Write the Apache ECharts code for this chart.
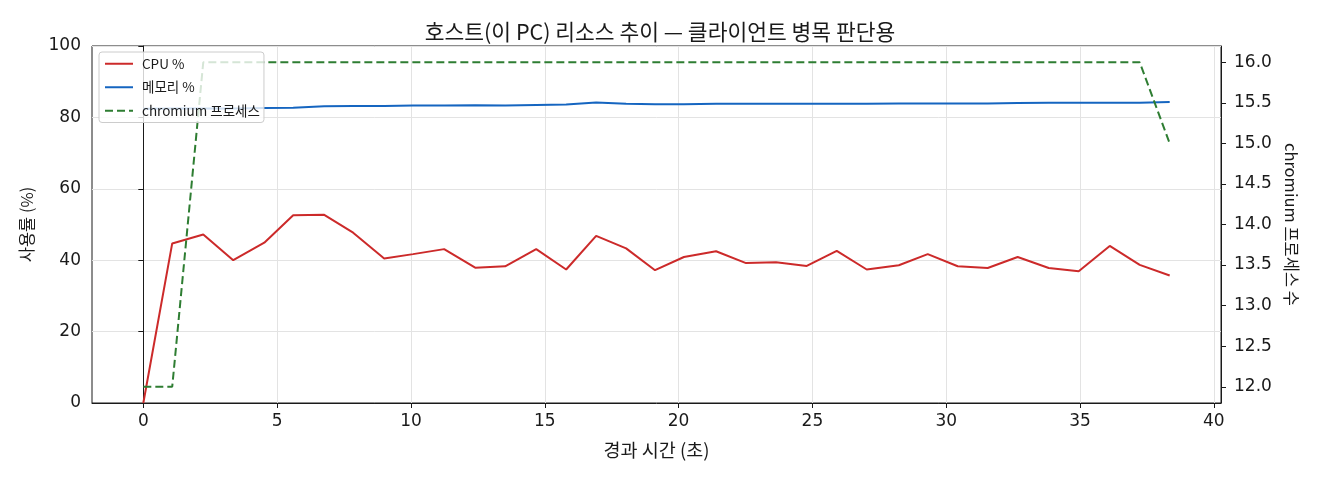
<!DOCTYPE html>
<html>
<head>
<meta charset="utf-8">
<script src="https://cdn.jsdelivr.net/npm/echarts@6/dist/echarts.min.js"></script>
<style>
  html, body { margin: 0; padding: 0; background: #fff; }
  #chart { width: 1320px; height: 480px; }
</style>
</head>
<body>
<div id="chart"></div>
<script>
var TIME_SEC = [0, 1.08, 2.24, 3.36, 4.52, 5.6, 6.76, 7.84, 9.0, 10.08, 11.24, 12.4, 13.52, 14.68, 15.8,
  16.92, 18.04, 19.12, 20.2, 21.4, 22.52, 23.64, 24.79, 25.91, 27.03, 28.23, 29.31, 30.43, 31.55,
  32.67, 33.83, 34.95, 36.11, 37.23, 38.35];
var CPU_PCT = [0, 44.7, 47.2, 40.0, 44.9, 52.6, 52.7, 47.7, 40.5, 41.7, 43.1, 37.9, 38.3, 43.1, 37.4,
  46.8, 43.3, 37.2, 40.9, 42.5, 39.2, 39.4, 38.4, 42.6, 37.4, 38.6, 41.7, 38.3, 37.8,
  40.9, 37.8, 36.9, 44.0, 38.7, 35.7];
var MEM_PCT = [82.4, 82.5, 82.5, 82.5, 82.6, 82.7, 83.1, 83.2, 83.2, 83.3, 83.3, 83.4, 83.3, 83.5, 83.6,
  84.2, 83.8, 83.7, 83.7, 83.8, 83.8, 83.8, 83.8, 83.8, 83.8, 83.9, 83.9, 83.9, 83.9,
  84.0, 84.1, 84.1, 84.1, 84.1, 84.3];
var CHROMIUM_PROCS = [12, 12, 16, 16, 16, 16, 16, 16, 16, 16, 16, 16, 16, 16, 16,
  16, 16, 16, 16, 16, 16, 16, 16, 16, 16, 16, 16, 16, 16,
  16, 16, 16, 16, 16, 15];
var X_TICKS = [0, 5, 10, 15, 20, 25, 30, 35, 40];
var PROC_TICKS = [12, 12.5, 13, 13.5, 14, 14.5, 15, 15.5, 16];

(function () {
  var FONT = '"Noto Sans CJK KR", "Noto Sans", sans-serif';
  var NUM_FONT = '"DejaVu Sans", "Noto Sans CJK KR", sans-serif';
  var INK = '#1a1a1a';
  var GRID = '#e3e3e3';

  function pairs(ys) {
    return TIME_SEC.map(function (t, i) { return [t, ys[i]]; });
  }

  var tickStyle = { show: true, inside: false, length: 5, lineStyle: { color: INK, width: 1 } };

  var option = {
    animation: false,
    backgroundColor: '#fff',
    textStyle: { fontFamily: FONT, color: INK },
    title: {
      text: '호스트(이 PC) 리소스 추이 — 클라이언트 병목 판단용',
      left: 'center',
      top: 16,
      textStyle: { fontFamily: FONT, fontSize: 21.5, fontWeight: 'normal', color: INK }
    },
    grid: {
      left: 92, right: 99, top: 46, bottom: 77,
      show: true, borderColor: INK, borderWidth: 1
    },
    legend: {
      orient: 'vertical',
      left: 99, top: 52,
      padding: [5, 4, 5, 5],
      itemWidth: 28, itemHeight: 14, itemGap: 10,
      backgroundColor: 'rgba(255,255,255,0.8)',
      borderColor: '#cccccc', borderWidth: 1, borderRadius: 3,
      itemStyle: { opacity: 0 },
      textStyle: { fontFamily: FONT, fontSize: 13.5, color: INK, padding: [0, 0, 0, 4] },
      data: ['CPU %', '메모리 %', 'chromium 프로세스']
    },
    xAxis: {
      type: 'value',
      min: -1.9175, max: 40.2675,
      name: '경과 시간 (초)',
      nameLocation: 'middle',
      nameGap: 38,
      nameTextStyle: { fontFamily: FONT, fontSize: 18.5, color: INK },
      axisLine: { show: true, onZero: false, lineStyle: { color: INK } },
      axisTick: { show: true, inside: false, length: 5, lineStyle: { color: INK }, customValues: X_TICKS },
      axisLabel: { fontFamily: NUM_FONT, fontSize: 17, color: INK, margin: 10, customValues: X_TICKS },
      splitLine: { show: true, lineStyle: { color: GRID, width: 1 } }
    },
    yAxis: [{
      type: 'value',
      min: 0, max: 100, interval: 20,
      name: '사용률 (%)',
      nameLocation: 'middle',
      nameGap: 57,
      nameTextStyle: { fontFamily: FONT, fontSize: 16.5, color: INK },
      axisLine: { show: true, lineStyle: { color: INK } },
      axisTick: tickStyle,
      axisLabel: { fontFamily: NUM_FONT, fontSize: 17, color: INK, margin: 11 },
      splitLine: { show: true, lineStyle: { color: GRID, width: 1 } }
    }, {
      type: 'value',
      position: 'right',
      min: 11.8, max: 16.2,
      name: 'chromium 프로세스 수',
      nameLocation: 'middle',
      nameRotate: -90,
      nameGap: 62,
      nameTextStyle: { fontFamily: FONT, fontSize: 16.5, color: INK },
      axisLine: { show: true, lineStyle: { color: INK } },
      axisTick: { show: true, inside: false, length: 5, lineStyle: { color: INK }, customValues: PROC_TICKS },
      axisLabel: {
        fontFamily: NUM_FONT, fontSize: 17, color: INK, margin: 13,
        customValues: PROC_TICKS,
        formatter: function (v) { return Number(v).toFixed(1); }
      },
      splitLine: { show: false }
    }],
    series: [{
      name: 'CPU %',
      type: 'line',
      yAxisIndex: 0,
      symbol: 'none',
      lineStyle: { color: '#cc2a2a', width: 2 },
      itemStyle: { color: '#cc2a2a' },
      data: pairs(CPU_PCT)
    }, {
      name: '메모리 %',
      type: 'line',
      yAxisIndex: 0,
      symbol: 'none',
      lineStyle: { color: '#1565c0', width: 2 },
      itemStyle: { color: '#1565c0' },
      data: pairs(MEM_PCT)
    }, {
      name: 'chromium 프로세스',
      type: 'line',
      yAxisIndex: 1,
      symbol: 'none',
      lineStyle: { color: '#2e7d32', width: 2, type: [8, 4] },
      itemStyle: { color: '#2e7d32' },
      data: pairs(CHROMIUM_PROCS)
    }]
  };

  var chart = echarts.init(document.getElementById('chart'), null, { renderer: 'canvas' });
  chart.setOption(option);
})();
</script>
</body>
</html>
